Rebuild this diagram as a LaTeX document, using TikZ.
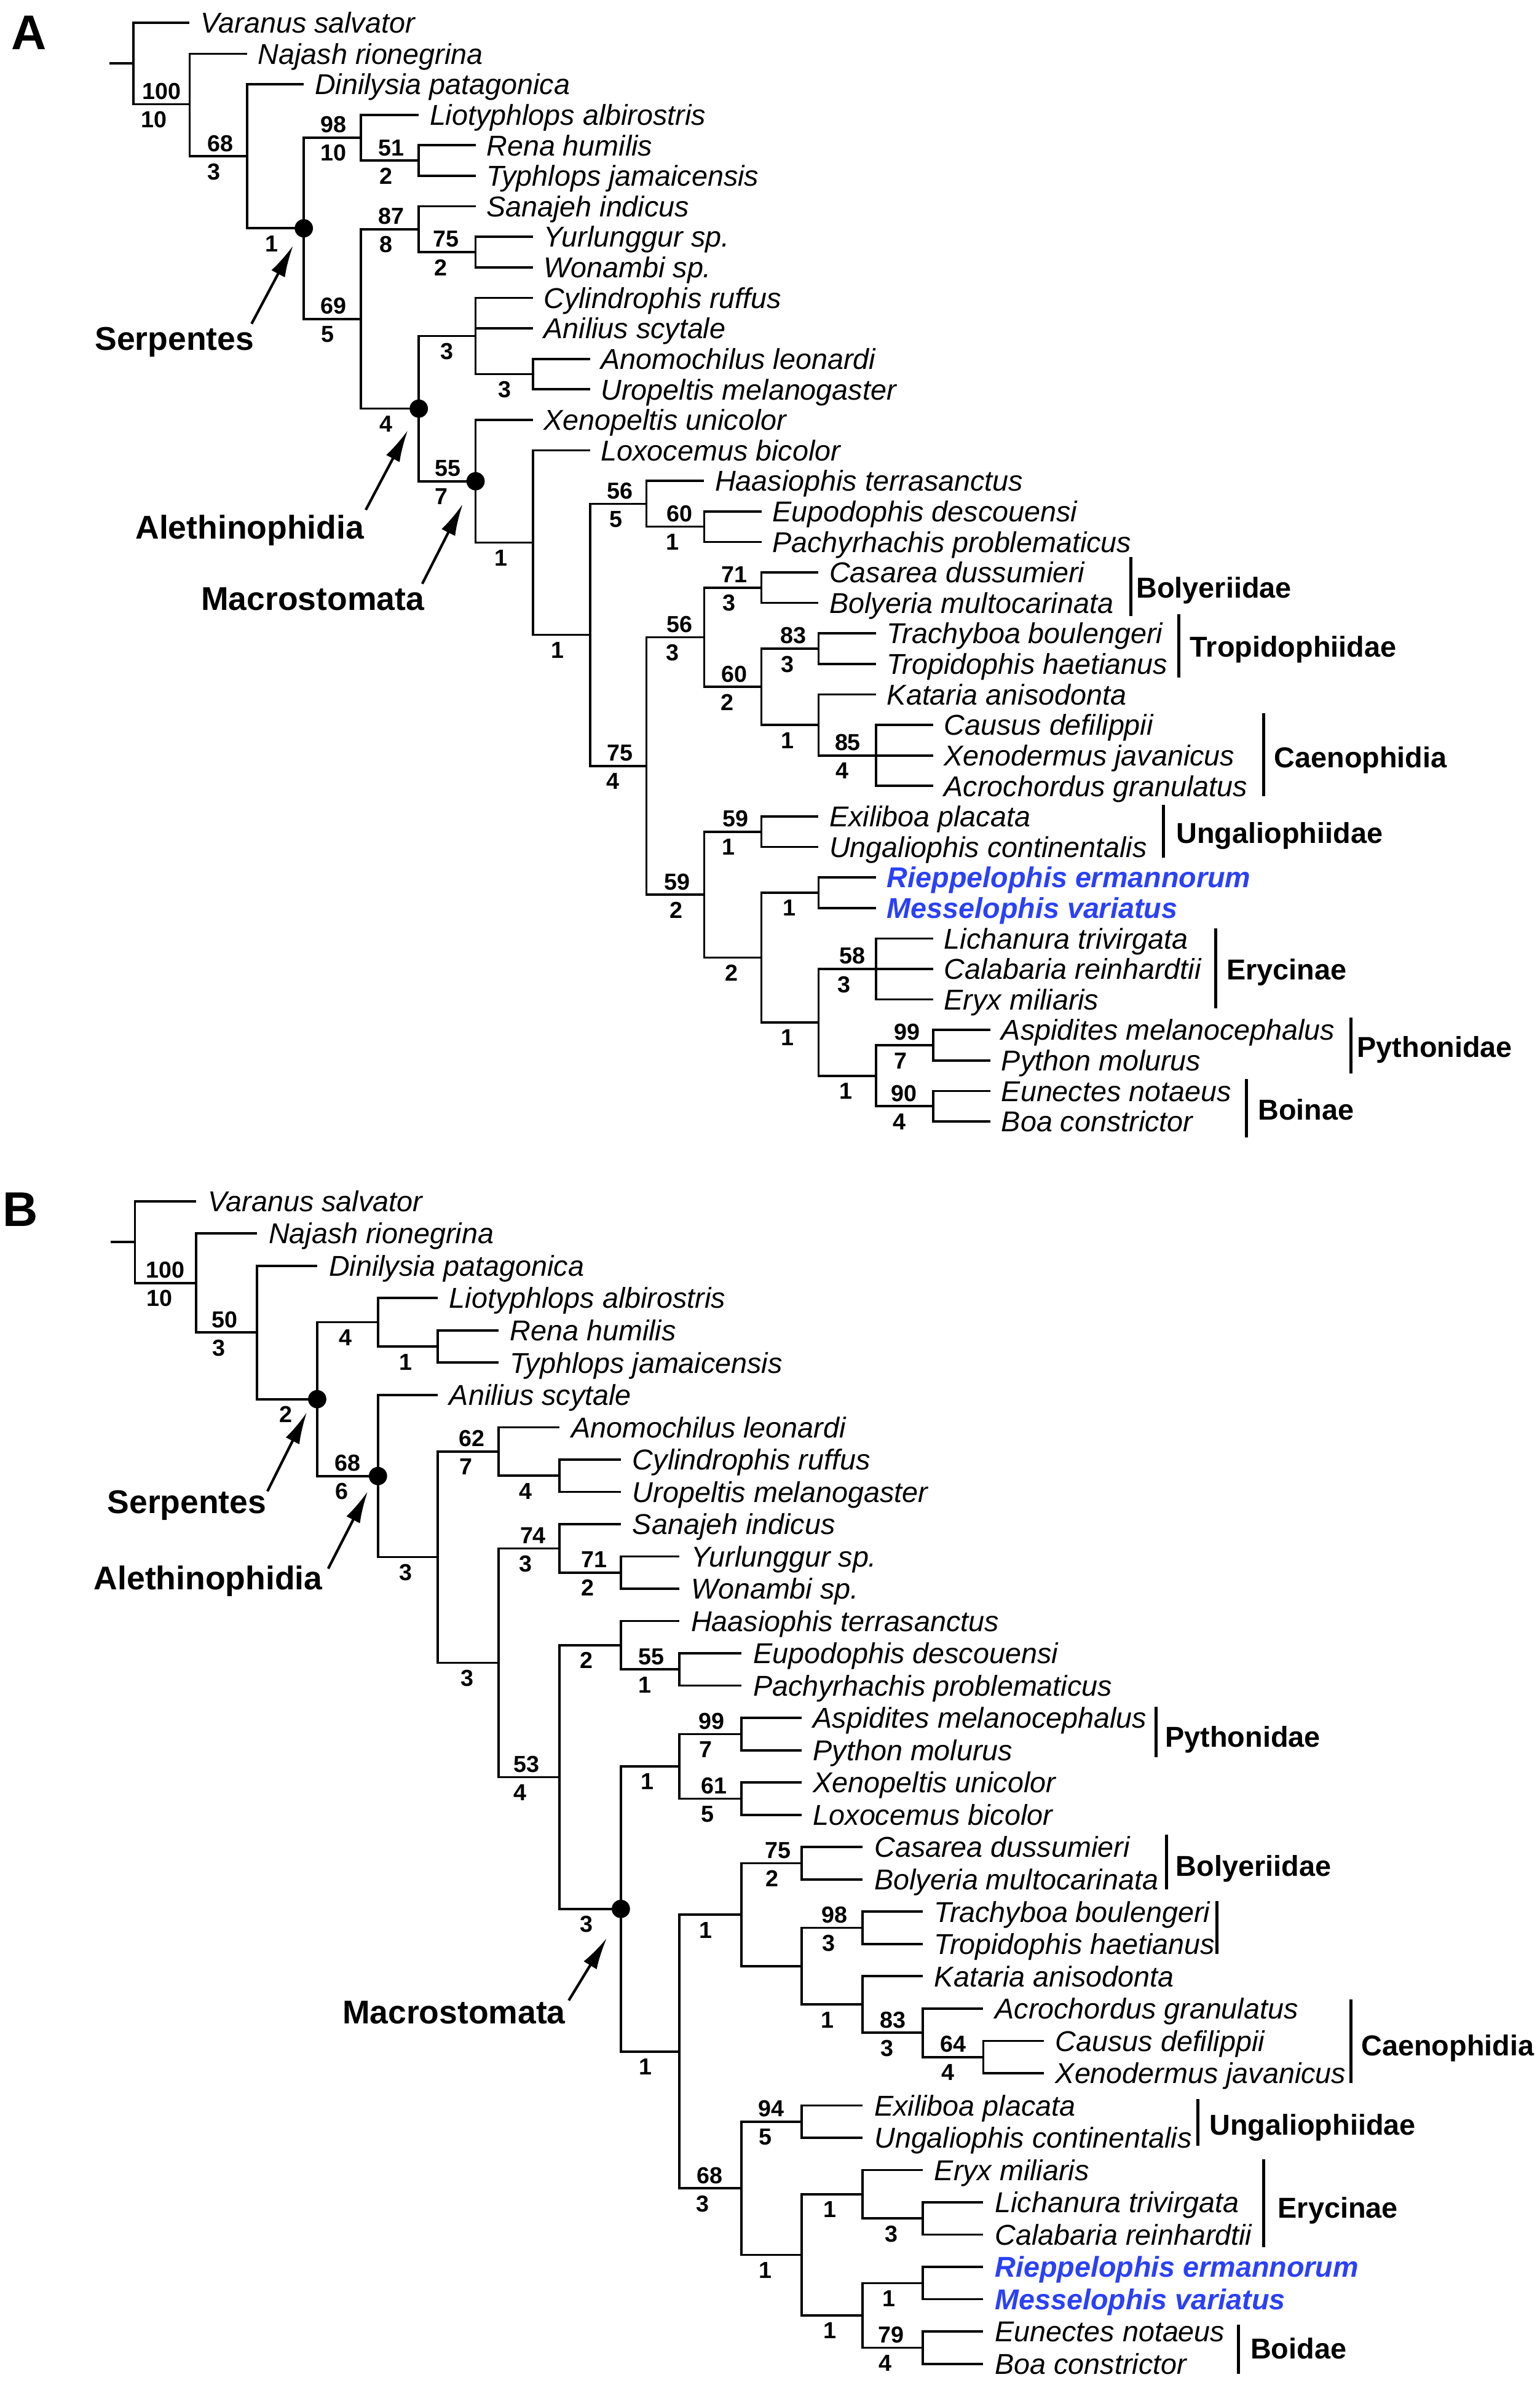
\documentclass[tikz,border=0pt]{standalone}
\usepackage{fontspec}
\setmainfont{Liberation Sans}
\usetikzlibrary{arrows.meta}
\definecolor{taxblue}{RGB}{42,64,250}
\tikzset{
  br/.style={line width=1.5pt},
  bar/.style={line width=2.1pt},
  taxon/.style={anchor=west, inner sep=0pt, text height=13.5pt, text depth=0pt, font=\itshape\fontsize{18.85pt}{22pt}\selectfont},
  bluetax/.style={text=taxblue, font=\bfseries\itshape\fontsize{18.85pt}{22pt}\selectfont},
  num/.style={inner sep=0pt, text height=10.9pt, text depth=0pt, font=\bfseries\fontsize{15.2pt}{18pt}\selectfont},
  fam/.style={anchor=west, inner sep=0pt, text height=13.5pt, text depth=0pt, font=\bfseries\fontsize{18.9pt}{22pt}\selectfont},
  clade/.style={inner sep=0pt, text height=15.5pt, text depth=0pt, font=\bfseries\fontsize{21.6pt}{25pt}\selectfont},
  panel/.style={anchor=base west, inner sep=0pt, font=\bfseries\fontsize{32pt}{36pt}\selectfont},
  pointer/.style={line width=1.7pt, -{Latex[length=21pt,width=10pt]}},
}
\newcommand\tx[4]{\coordinate (#1) at (#2,#3);\node[taxon] (#1-l) at ([xshift=\tgap]#1) {#4};}
\newcommand\txb[4]{\coordinate (#1) at (#2,#3);\node[taxon,bluetax] (#1-l) at ([xshift=\tgap]#1) {#4};}
\newcommand\kids[2]{\foreach \kid in {#2}{\draw[br] (#1) |- (\kid);}}
\newcommand\blab[5]{\node[num] (#1-s) at ([xshift=#2,yshift=8.7]#1) {#3};\node[num] (#1-b) at ([xshift=#4,yshift=-9.9]#1) {#5};}
\newcommand\blbo[3]{\node[num] (#1-b) at ([xshift=#2,yshift=-9.9]#1) {#3};}
\newcommand\fambar[7]{\coordinate (#1-t) at (#2,#3);\coordinate (#1-b) at (#2,#4);\draw[bar] (#1-t) -- (#1-b);\node[fam] (#1-l) at (#5,#6) {#7};}
\begin{document}
\begin{tikzpicture}[x=1pt,y=-1pt]
\useasboundingbox (0,0) rectangle (1011,1568);
\fill[white] (0,0) rectangle (1011,1568);

% ================= TREE A =================
\node[panel] (A-panel) at (7.4,32.4) {A};
\def\tgap{7}
\coordinate (A-stub) at (72,41.6);
\coordinate (A-root) at (87.5,41.6);
\coordinate (A-N1) at (124.5,68.4);
\coordinate (A-N2) at (162.3,102.64);
\coordinate (A-Serp) at (199.5,149.91);
\coordinate (A-Scol) at (237,90.42);
\coordinate (A-N51) at (275,105.44);
\coordinate (A-N69) at (237,209.4);
\coordinate (A-N87) at (275,150.5);
\coordinate (A-N75) at (312.3,165.53);
\coordinate (A-Aleth) at (275,268.3);
\coordinate (A-N3a) at (312.3,220.61);
\coordinate (A-N3b) at (349.9,245.65);
\coordinate (A-Macro) at (312.3,315.99);
\coordinate (A-N1c) at (349.9,356.29);
\coordinate (A-N1d) at (387.5,416.85);
\coordinate (A-N56a) at (424.5,330.78);
\coordinate (A-N60a) at (462.4,345.8);
\coordinate (A-N75b) at (424.5,502.92);
\coordinate (A-N56b) at (462.4,418.41);
\coordinate (A-N71) at (500,385.86);
\coordinate (A-N60b) at (500,450.96);
\coordinate (A-N83) at (537.5,425.92);
\coordinate (A-N1e) at (537.5,475.99);
\coordinate (A-N85) at (575.3,496.02);
\coordinate (A-N59a) at (462.4,587.42);
\coordinate (A-N59b) at (500,546.1);
\coordinate (A-N2a) at (500,628.73);
\coordinate (A-N1f) at (537.5,586.16);
\coordinate (A-N1g) at (537.5,671.29);
\coordinate (A-N58) at (575.3,636.23);
\coordinate (A-N1h) at (575.3,706.34);
\coordinate (A-N99) at (612.8,686.31);
\coordinate (A-N90) at (612.8,726.37);

\tx{A-varanus}{124.5}{14.8}{Varanus salvator}
\tx{A-najash}{162.3}{35.33}{Najash rionegrina}
\tx{A-dinilysia}{199.5}{55.36}{Dinilysia patagonica}
\tx{A-liotyphlops}{275}{75.39}{Liotyphlops albirostris}
\tx{A-rena}{312.3}{95.42}{Rena humilis}
\tx{A-typhlops}{312.3}{115.45}{Typhlops jamaicensis}
\tx{A-sanajeh}{312.3}{135.48}{Sanajeh indicus}
\tx{A-yurlunggur}{349.9}{155.51}{Yurlunggur sp.}
\tx{A-wonambi}{349.9}{175.54}{Wonambi sp.}
\tx{A-cylindrophis}{349.9}{195.57}{Cylindrophis ruffus}
\tx{A-anilius}{349.9}{215.6}{Anilius scytale}
\tx{A-anomochilus}{387.5}{235.63}{Anomochilus leonardi}
\tx{A-uropeltis}{387.5}{255.66}{Uropeltis melanogaster}
\tx{A-xenopeltis}{349.9}{275.69}{Xenopeltis unicolor}
\tx{A-loxocemus}{387.5}{295.72}{Loxocemus bicolor}
\tx{A-haasiophis}{462.4}{315.75}{Haasiophis terrasanctus}
\tx{A-eupodophis}{500}{335.78}{Eupodophis descouensi}
\tx{A-pachyrhachis}{500}{355.81}{Pachyrhachis problematicus}
\tx{A-casarea}{537.5}{375.84}{Casarea dussumieri}
\tx{A-bolyeria}{537.5}{395.87}{Bolyeria multocarinata}
\tx{A-trachyboa}{575.3}{415.9}{Trachyboa boulengeri}
\tx{A-tropidophis}{575.3}{435.93}{Tropidophis haetianus}
\tx{A-kataria}{575.3}{455.96}{Kataria anisodonta}
\tx{A-causus}{612.8}{475.99}{Causus defilippii}
\tx{A-xenodermus}{612.8}{496.02}{Xenodermus javanicus}
\tx{A-acrochordus}{612.8}{516.05}{Acrochordus granulatus}
\tx{A-exiliboa}{537.5}{536.08}{Exiliboa placata}
\tx{A-ungaliophis}{537.5}{556.11}{Ungaliophis continentalis}
\txb{A-rieppelophis}{575.3}{576.14}{Rieppelophis ermannorum}
\txb{A-messelophis}{575.3}{596.17}{Messelophis variatus}
\tx{A-lichanura}{612.8}{616.2}{Lichanura trivirgata}
\tx{A-calabaria}{612.8}{636.23}{Calabaria reinhardtii}
\tx{A-eryx}{612.8}{656.26}{Eryx miliaris}
\tx{A-aspidites}{650.4}{676.29}{Aspidites melanocephalus}
\tx{A-python}{650.4}{696.32}{Python molurus}
\tx{A-eunectes}{650.4}{716.35}{Eunectes notaeus}
\tx{A-boa}{650.4}{736.38}{Boa constrictor}

\draw[br] (A-stub) -- (A-root);
\kids{A-root}{A-varanus,A-N1}
\kids{A-N1}{A-najash,A-N2}
\kids{A-N2}{A-dinilysia,A-Serp}
\kids{A-Serp}{A-Scol,A-N69}
\kids{A-Scol}{A-liotyphlops,A-N51}
\kids{A-N51}{A-rena,A-typhlops}
\kids{A-N69}{A-N87,A-Aleth}
\kids{A-N87}{A-sanajeh,A-N75}
\kids{A-N75}{A-yurlunggur,A-wonambi}
\kids{A-Aleth}{A-N3a,A-Macro}
\kids{A-N3a}{A-cylindrophis,A-anilius,A-N3b}
\kids{A-N3b}{A-anomochilus,A-uropeltis}
\kids{A-Macro}{A-xenopeltis,A-N1c}
\kids{A-N1c}{A-loxocemus,A-N1d}
\kids{A-N1d}{A-N56a,A-N75b}
\kids{A-N56a}{A-haasiophis,A-N60a}
\kids{A-N60a}{A-eupodophis,A-pachyrhachis}
\kids{A-N75b}{A-N56b,A-N59a}
\kids{A-N56b}{A-N71,A-N60b}
\kids{A-N71}{A-casarea,A-bolyeria}
\kids{A-N60b}{A-N83,A-N1e}
\kids{A-N83}{A-trachyboa,A-tropidophis}
\kids{A-N1e}{A-kataria,A-N85}
\kids{A-N85}{A-causus,A-xenodermus,A-acrochordus}
\kids{A-N59a}{A-N59b,A-N2a}
\kids{A-N59b}{A-exiliboa,A-ungaliophis}
\kids{A-N2a}{A-N1f,A-N1g}
\kids{A-N1f}{A-rieppelophis,A-messelophis}
\kids{A-N1g}{A-N58,A-N1h}
\kids{A-N58}{A-lichanura,A-calabaria,A-eryx}
\kids{A-N1h}{A-N99,A-N90}
\kids{A-N99}{A-aspidites,A-python}
\kids{A-N90}{A-eunectes,A-boa}

\fill (A-Serp) circle[radius=6pt];
\fill (A-Aleth) circle[radius=6pt];
\fill (A-Macro) circle[radius=6pt];

\blab{A-N1}{-18.5}{100}{-23.5}{10}
\blab{A-N2}{-17.7}{68}{-21.7}{3}
\blbo{A-Serp}{-21.1}{1}
\blab{A-Scol}{-18}{98}{-18}{10}
\blab{A-N51}{-18}{51}{-21.6}{2}
\blab{A-N69}{-18}{69}{-21.8}{5}
\blab{A-N87}{-18}{87}{-21.6}{8}
\blab{A-N75}{-19.4}{75}{-22.8}{2}
\blbo{A-Aleth}{-21.6}{4}
\blbo{A-N3a}{-18.8}{3}
\blbo{A-N3b}{-18.5}{3}
\blab{A-Macro}{-18.3}{55}{-22.6}{7}
\blbo{A-N1c}{-20.9}{1}
\blbo{A-N1d}{-21.5}{1}
\blab{A-N56a}{-17.4}{56}{-20.2}{5}
\blab{A-N60a}{-16.3}{60}{-20.9}{1}
\blab{A-N75b}{-17.4}{75}{-22.1}{4}
\blab{A-N56b}{-16.3}{56}{-20.9}{3}
\blab{A-N71}{-17.7}{71}{-21.4}{3}
\blab{A-N60b}{-17.7}{60}{-22.3}{2}
\blab{A-N83}{-16.6}{83}{-20.3}{3}
\blbo{A-N1e}{-20.3}{1}
\blab{A-N85}{-18.6}{85}{-22.3}{4}
\blab{A-N59a}{-17.6}{59}{-18.4}{2}
\blab{A-N59b}{-16.8}{59}{-21.8}{1}
\blbo{A-N2a}{-19.7}{2}
\blbo{A-N1f}{-19.2}{1}
\blbo{A-N1g}{-20.5}{1}
\blab{A-N58}{-15.7}{58}{-21.1}{3}
\blbo{A-N1h}{-19.9}{1}
\blab{A-N99}{-17.3}{99}{-21.4}{7}
\blab{A-N90}{-19.3}{90}{-22.2}{4}

\fambar{A-bol}{742.5}{365.9}{404.4}{746}{386}{Bolyeriidae}
\fambar{A-trop}{774}{403.5}{445}{781.3}{424.5}{Tropidophiidae}
\fambar{A-caen}{829.8}{468.3}{522.6}{836.5}{497.2}{Caenophidia}
\fambar{A-ung}{764}{528.4}{563.2}{772.3}{547}{Ungaliophiidae}
\fambar{A-ery}{798.3}{609.5}{662}{805.3}{636.5}{Erycinae}
\fambar{A-pyth}{887}{668.2}{705}{891}{687.5}{Pythonidae}
\fambar{A-boin}{818.5}{708.4}{747}{826}{728.5}{Boinae}

\node[clade] (A-serp-l) at (114.6,222.3) {Serpentes};
\node[clade] (A-aleth-l) at (164,346) {Alethinophidia};
\node[clade] (A-macro-l) at (205.4,392.8) {Macrostomata};
\coordinate (A-serp-tail) at (165.2,212.6);
\coordinate (A-serp-tip) at (192.5,161.2);
\coordinate (A-aleth-tail) at (240.2,334.8);
\coordinate (A-aleth-tip) at (267.8,282.5);
\coordinate (A-macro-tail) at (277.3,383.3);
\coordinate (A-macro-tip) at (303.9,330.9);
\draw[pointer] (A-serp-tail) -- (A-serp-tip);
\draw[pointer] (A-aleth-tail) -- (A-aleth-tip);
\draw[pointer] (A-macro-tail) -- (A-macro-tip);

% ================= TREE B =================
\node[panel] (B-panel) at (1.7,805) {B};
\def\tgap{7.5}
\coordinate (B-stub) at (72.6,815.56);
\coordinate (B-root) at (88.6,815.56);
\coordinate (B-N1) at (128.9,842.41);
\coordinate (B-N2) at (168.8,874.91);
\coordinate (B-Serp) at (208.3,918.7);
\coordinate (B-N4) at (248.2,868.22);
\coordinate (B-N1r) at (287.4,884.13);
\coordinate (B-Aleth) at (248.2,969.18);
\coordinate (B-N3a) at (287.4,1022.41);
\coordinate (B-N62) at (327.3,953.05);
\coordinate (B-N4b) at (367.5,968.95);
\coordinate (B-N3b) at (327.3,1091.76);
\coordinate (B-N74) at (367.5,1016.67);
\coordinate (B-N71) at (407.7,1032.57);
\coordinate (B-N53) at (367.5,1166.85);
\coordinate (B-N2h) at (407.7,1080.28);
\coordinate (B-N55) at (446.1,1096.19);
\coordinate (B-Macro) at (407.7,1253.42);
\coordinate (B-N1p) at (446.1,1159.81);
\coordinate (B-N99) at (486.9,1138.6);
\coordinate (B-N61) at (486.9,1181.01);
\coordinate (B-N1q) at (446.1,1347.02);
\coordinate (B-N1s) at (486.9,1257.23);
\coordinate (B-N75) at (526.3,1223.43);
\coordinate (B-N1t) at (526.3,1291.02);
\coordinate (B-N98) at (566.5,1265.84);
\coordinate (B-N1u) at (566.5,1316.2);
\coordinate (B-N83) at (605.9,1334.76);
\coordinate (B-N64) at (645.7,1350.66);
\coordinate (B-N68) at (486.9,1436.81);
\coordinate (B-N94) at (526.3,1393.07);
\coordinate (B-N1v) at (526.3,1480.55);
\coordinate (B-N1w) at (566.5,1440.79);
\coordinate (B-N3c) at (605.9,1456.69);
\coordinate (B-N1x) at (566.5,1520.31);
\coordinate (B-N1y) at (605.9,1499.1);
\coordinate (B-N79) at (605.9,1541.52);

\tx{B-varanus}{128.9}{788.7}{Varanus salvator}
\tx{B-najash}{168.8}{809.91}{Najash rionegrina}
\tx{B-dinilysia}{208.3}{831.11}{Dinilysia patagonica}
\tx{B-liotyphlops}{287.4}{852.32}{Liotyphlops albirostris}
\tx{B-rena}{327.3}{873.52}{Rena humilis}
\tx{B-typhlops}{327.3}{894.73}{Typhlops jamaicensis}
\tx{B-anilius}{287.4}{915.94}{Anilius scytale}
\tx{B-anomochilus}{367.5}{937.14}{Anomochilus leonardi}
\tx{B-cylindrophis}{407.7}{958.35}{Cylindrophis ruffus}
\tx{B-uropeltis}{407.7}{979.55}{Uropeltis melanogaster}
\tx{B-sanajeh}{407.7}{1000.76}{Sanajeh indicus}
\tx{B-yurlunggur}{446.1}{1021.97}{Yurlunggur sp.}
\tx{B-wonambi}{446.1}{1043.17}{Wonambi sp.}
\tx{B-haasiophis}{446.1}{1064.38}{Haasiophis terrasanctus}
\tx{B-eupodophis}{486.9}{1085.58}{Eupodophis descouensi}
\tx{B-pachyrhachis}{486.9}{1106.79}{Pachyrhachis problematicus}
\tx{B-aspidites}{526.3}{1128.0}{Aspidites melanocephalus}
\tx{B-python}{526.3}{1149.2}{Python molurus}
\tx{B-xenopeltis}{526.3}{1170.41}{Xenopeltis unicolor}
\tx{B-loxocemus}{526.3}{1191.61}{Loxocemus bicolor}
\tx{B-casarea}{566.5}{1212.82}{Casarea dussumieri}
\tx{B-bolyeria}{566.5}{1234.03}{Bolyeria multocarinata}
\tx{B-trachyboa}{605.9}{1255.23}{Trachyboa boulengeri}
\tx{B-tropidophis}{605.9}{1276.44}{Tropidophis haetianus}
\tx{B-kataria}{605.9}{1297.64}{Kataria anisodonta}
\tx{B-acrochordus}{645.7}{1318.85}{Acrochordus granulatus}
\tx{B-causus}{685.4}{1340.06}{Causus defilippii}
\tx{B-xenodermus}{685.4}{1361.26}{Xenodermus javanicus}
\tx{B-exiliboa}{566.5}{1382.47}{Exiliboa placata}
\tx{B-ungaliophis}{566.5}{1403.67}{Ungaliophis continentalis}
\tx{B-eryx}{605.9}{1424.88}{Eryx miliaris}
\tx{B-lichanura}{645.7}{1446.09}{Lichanura trivirgata}
\tx{B-calabaria}{645.7}{1467.29}{Calabaria reinhardtii}
\txb{B-rieppelophis}{645.7}{1488.5}{Rieppelophis ermannorum}
\txb{B-messelophis}{645.7}{1509.7}{Messelophis variatus}
\tx{B-eunectes}{645.7}{1530.91}{Eunectes notaeus}
\tx{B-boa}{645.7}{1552.12}{Boa constrictor}

\draw[br] (B-stub) -- (B-root);
\kids{B-root}{B-varanus,B-N1}
\kids{B-N1}{B-najash,B-N2}
\kids{B-N2}{B-dinilysia,B-Serp}
\kids{B-Serp}{B-N4,B-Aleth}
\kids{B-N4}{B-liotyphlops,B-N1r}
\kids{B-N1r}{B-rena,B-typhlops}
\kids{B-Aleth}{B-anilius,B-N3a}
\kids{B-N3a}{B-N62,B-N3b}
\kids{B-N62}{B-anomochilus,B-N4b}
\kids{B-N4b}{B-cylindrophis,B-uropeltis}
\kids{B-N3b}{B-N74,B-N53}
\kids{B-N74}{B-sanajeh,B-N71}
\kids{B-N71}{B-yurlunggur,B-wonambi}
\kids{B-N53}{B-N2h,B-Macro}
\kids{B-N2h}{B-haasiophis,B-N55}
\kids{B-N55}{B-eupodophis,B-pachyrhachis}
\kids{B-Macro}{B-N1p,B-N1q}
\kids{B-N1p}{B-N99,B-N61}
\kids{B-N99}{B-aspidites,B-python}
\kids{B-N61}{B-xenopeltis,B-loxocemus}
\kids{B-N1q}{B-N1s,B-N68}
\kids{B-N1s}{B-N75,B-N1t}
\kids{B-N75}{B-casarea,B-bolyeria}
\kids{B-N1t}{B-N98,B-N1u}
\kids{B-N98}{B-trachyboa,B-tropidophis}
\kids{B-N1u}{B-kataria,B-N83}
\kids{B-N83}{B-acrochordus,B-N64}
\kids{B-N64}{B-causus,B-xenodermus}
\kids{B-N68}{B-N94,B-N1v}
\kids{B-N94}{B-exiliboa,B-ungaliophis}
\kids{B-N1v}{B-N1w,B-N1x}
\kids{B-N1w}{B-eryx,B-N3c}
\kids{B-N3c}{B-lichanura,B-calabaria}
\kids{B-N1x}{B-N1y,B-N79}
\kids{B-N1y}{B-rieppelophis,B-messelophis}
\kids{B-N79}{B-eunectes,B-boa}

\fill (B-Serp) circle[radius=6pt];
\fill (B-Aleth) circle[radius=6pt];
\fill (B-Macro) circle[radius=6pt];

\blab{B-N1}{-20.3}{100}{-24.3}{10}
\blab{B-N2}{-21.1}{50}{-25.1}{3}
\blbo{B-Serp}{-20.7}{2}
\blbo{B-N4}{-21.5}{4}
\blbo{B-N1r}{-20.8}{1}
\blab{B-Aleth}{-19.9}{68}{-23.9}{6}
\blbo{B-N3a}{-20.8}{3}
\blab{B-N62}{-17.3}{62}{-21.2}{7}
\blbo{B-N4b}{-22.3}{4}
\blbo{B-N3b}{-20.3}{3}
\blab{B-N74}{-17.5}{74}{-22.3}{3}
\blab{B-N71}{-17.4}{71}{-21.7}{2}
\blab{B-N53}{-21.8}{53}{-26.1}{4}
\blbo{B-N2h}{-22.4}{2}
\blab{B-N55}{-18.5}{55}{-22.7}{1}
\blbo{B-Macro}{-22.4}{3}
\blbo{B-N1p}{-21.1}{1}
\blab{B-N99}{-19.6}{99}{-23.3}{7}
\blab{B-N61}{-18}{61}{-22.2}{5}
\blbo{B-N1s}{-23.3}{1}
\blab{B-N75}{-15.6}{75}{-19.3}{2}
\blab{B-N98}{-18.3}{98}{-22.5}{3}
\blbo{B-N1u}{-23}{1}
\blab{B-N83}{-19.6}{83}{-23.2}{3}
\blab{B-N64}{-19.7}{64}{-23.3}{4}
\blbo{B-N1q}{-22.3}{1}
\blab{B-N68}{-20.8}{68}{-25.4}{3}
\blab{B-N94}{-20}{94}{-23.6}{5}
\blbo{B-N1v}{-23.6}{1}
\blbo{B-N1w}{-21.4}{1}
\blbo{B-N3c}{-20.6}{3}
\blbo{B-N1x}{-21.4}{1}
\blbo{B-N1y}{-22.2}{1}
\blab{B-N79}{-20.6}{79}{-24.7}{4}

\fambar{B-pyth}{759.3}{1120.7}{1153.8}{765}{1140.2}{Pythonidae}
\fambar{B-bol}{766.1}{1204.5}{1240.5}{772}{1225.2}{Bolyeriidae}
\coordinate (B-trop-t) at (799,1248.2);
\coordinate (B-trop-b) at (799,1283);
\draw[bar] (B-trop-t) -- (B-trop-b);
\fambar{B-caen}{887.1}{1312.8}{1367.7}{893.8}{1343.1}{Caenophidia}
\fambar{B-ung}{786.5}{1378.3}{1409.1}{794}{1395}{Ungaliophiidae}
\fambar{B-ery}{829.9}{1417.9}{1475.5}{839}{1449.6}{Erycinae}
\fambar{B-boid}{813.4}{1526.2}{1558.8}{821}{1542}{Boidae}

\node[clade] (B-serp-l) at (122.7,985.8) {Serpentes};
\node[clade] (B-aleth-l) at (136.7,1036) {Alethinophidia};
\node[clade] (B-macro-l) at (298.1,1321) {Macrostomata};
\coordinate (B-serp-tail) at (175.6,979.2);
\coordinate (B-serp-tip) at (201.5,927.3);
\coordinate (B-aleth-tail) at (215.5,1030);
\coordinate (B-aleth-tip) at (241.5,979.2);
\coordinate (B-macro-tail) at (373.5,1313.5);
\coordinate (B-macro-tip) at (398.5,1272.5);
\draw[pointer] (B-serp-tail) -- (B-serp-tip);
\draw[pointer] (B-aleth-tail) -- (B-aleth-tip);
\draw[pointer] (B-macro-tail) -- (B-macro-tip);
\end{tikzpicture}
\end{document}
